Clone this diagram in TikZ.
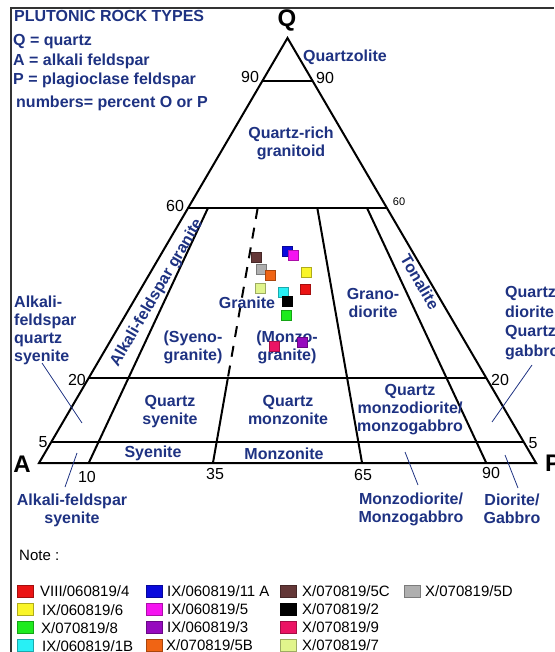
\documentclass[tikz,border=0pt]{standalone}
\usepackage{fontspec}
\setmainfont{Liberation Sans}
\usepackage{tikz}
\usetikzlibrary{calc}
\definecolor{rockblue}{RGB}{30,50,130}
\definecolor{sRed}{RGB}{235,20,20}
\definecolor{sBlue}{RGB}{10,10,220}
\definecolor{sBrown}{RGB}{100,55,55}
\definecolor{sGray}{RGB}{175,175,175}
\definecolor{sYellow}{RGB}{250,245,40}
\definecolor{sMagenta}{RGB}{245,20,240}
\definecolor{sGreen}{RGB}{30,235,30}
\definecolor{sPurple}{RGB}{150,10,190}
\definecolor{sCrimson}{RGB}{235,20,100}
\definecolor{sCyan}{RGB}{40,240,245}
\definecolor{sOrange}{RGB}{240,100,20}
\definecolor{sLime}{RGB}{225,245,140}

\begin{document}
\begin{tikzpicture}[x=1pt,y=-1pt,
    rock/.style={font=\bfseries\fontsize{16}{18}\selectfont, text=rockblue, align=center, inner sep=0pt},
    num/.style={font=\fontsize{16}{18}\selectfont, inner sep=0pt},
    corner/.style={font=\bfseries\fontsize{24}{24}\selectfont, inner sep=0pt},
    smp/.style={draw=#1!70!black, fill=#1, minimum size=10pt, inner sep=0pt, line width=0.5pt},
    key/.style={draw=#1!70!black, fill=#1, minimum width=16pt, minimum height=12pt, inner sep=0pt, line width=0.5pt},
    keytxt/.style={font=\fontsize{15}{17}\selectfont, anchor=west, inner sep=0pt},
    field/.style={line width=2pt},
    ptr/.style={line width=0.8pt, draw=rockblue}]
  \useasboundingbox (0,0) rectangle (554,652);
  \draw[line width=2pt, black!80] (11,652) -- (11,8) -- (554,8);

  % header
  \node[rock, anchor=west] (title) at (14,16) {PLUTONIC ROCK TYPES};
  \node[rock, anchor=west] (hq) at (13,42) {Q = quartz};
  \node[rock, anchor=west] (ha) at (13,61) {A = alkali feldspar};
  \node[rock, anchor=west] (hp) at (13,80) {P = plagioclase feldspar};
  \node[rock, anchor=west] (hn) at (16,103) {numbers= percent O or P};

  % triangle
  \coordinate (Q) at (287.5,38);
  \coordinate (A) at (39,463);
  \coordinate (P) at (536,463);
  \coordinate (l90) at ($(A)!0.9!(Q)$);
  \coordinate (r90) at ($(P)!0.9!(Q)$);
  \coordinate (l60) at ($(A)!0.6!(Q)$);
  \coordinate (r60) at ($(P)!0.6!(Q)$);
  \coordinate (l20) at ($(A)!0.2!(Q)$);
  \coordinate (r20) at ($(P)!0.2!(Q)$);
  \coordinate (l5) at ($(A)!0.05!(Q)$);
  \coordinate (r5) at ($(P)!0.05!(Q)$);
  \coordinate (b10) at ($(A)!0.1!(P)$);
  \coordinate (b35) at ($(A)!0.35!(P)$);
  \coordinate (b65) at ($(A)!0.65!(P)$);
  \coordinate (b90) at ($(A)!0.9!(P)$);
  \coordinate (t10) at ($(b10)!0.6!(Q)$);
  \coordinate (t35) at ($(b35)!0.6!(Q)$);
  \coordinate (m35) at ($(b35)!0.2!(Q)$);
  \coordinate (t65) at ($(b65)!0.6!(Q)$);
  \coordinate (t90) at ($(b90)!0.6!(Q)$);

  \draw[field] (A) -- (P) -- (Q) -- cycle;
  \draw[field] (l90) -- (r90);
  \draw[field] (l60) -- (r60);
  \draw[field] (l20) -- (r20);
  \draw[field] (l5) -- (r5);
  \draw[field] (b10) -- (t10);
  \draw[field] (b35) -- (m35);
  \draw[field, dash pattern=on 11pt off 9pt] (t35) -- (m35);
  \draw[field] (b65) -- (t65);
  \draw[field] (b90) -- (t90);

  \node[corner] (cq) at (287,20) {Q};
  \node[corner] (ca) at (22,464) {A};
  \node[corner, anchor=west] (cp) at (545,463) {P};

  % numbers
  \node[num] (n90l) at (250,77) {90};
  \node[num] (n90r) at (325,78) {90};
  \node[num] (n60l) at (175,206) {60};
  \node[num, font=\fontsize{11}{13}\selectfont] (n60r) at (399,202) {60};
  \node[num] (n20l) at (77,380) {20};
  \node[num] (n20r) at (500,380) {20};
  \node[num] (n5l) at (43,442) {5};
  \node[num] (n5r) at (533,443) {5};
  \node[num] (n10) at (87,477) {10};
  \node[num] (n35) at (215,474) {35};
  \node[num] (n65) at (363,475) {65};
  \node[num] (n90b) at (491,473) {90};

  % fields
  \node[rock] (qzl) at (345,57) {Quartzolite};
  \node[rock] (qrg) at (291,143) {Quartz-rich\\granitoid};
  \node[rock, rotate=59.7] (afg) at (157,293) {Alkali-feldspar granite};
  \node[rock] (gra) at (247,303) {Granite};
  \node[rock] (syg) at (193,347) {(Syeno-\\granite)};
  \node[rock] (mzg) at (287,347) {(Monzo-\\granite)};
  \node[rock] (grd) at (373,303) {Grano-\\diorite};
  \node[rock, rotate=-59.7] (ton) at (420,282) {Tonalite};
  \node[rock] (qsy) at (170,412) {Quartz\\syenite};
  \node[rock] (qmz) at (288,410) {Quartz\\monzonite};
  \node[rock] (qmd) at (410,410) {Quartz\\monzodiorite/\\monzogabbro};
  \node[rock] (sye) at (153,453) {Syenite};
  \node[rock] (mzn) at (284,454) {Monzonite};
  \node[rock, anchor=west, align=left] (afq) at (14,330) {Alkali-\\feldspar\\quartz\\syenite};
  \node[rock] (afs) at (72,510) {Alkali-feldspar\\syenite};
  \node[rock, anchor=west, align=left, font=\bfseries\fontsize{16}{19.5}\selectfont] (qdg) at (505,323) {Quartz\\diorite\\Quartz\\gabbro};
  \node[rock] (mdg) at (411,509) {Monzodiorite/\\Monzogabbro};
  \node[rock] (dgb) at (512,509) {Diorite/\\Gabbro};

  % pointers
  \coordinate (afq1) at (42,363);
  \coordinate (afq2) at (82,423);
  \coordinate (afs1) at (65,487);
  \coordinate (afs2) at (77,453);
  \coordinate (qdg1) at (532,365);
  \coordinate (qdg2) at (492,422);
  \coordinate (mdg1) at (418,485);
  \coordinate (mdg2) at (405,452);
  \coordinate (dgb1) at (518,488);
  \coordinate (dgb2) at (505,455);
  \draw[ptr] (afq1) -- (afq2);
  \draw[ptr] (afs1) -- (afs2);
  \draw[ptr] (qdg1) -- (qdg2);
  \draw[ptr] (mdg1) -- (mdg2);
  \draw[ptr] (dgb1) -- (dgb2);

  % samples
  \node[smp=sBrown] (s5c) at (256,257) {};
  \node[smp=sBlue] (s11a) at (287,251) {};
  \node[smp=sMagenta] (s5) at (293,255) {};
  \node[smp=sGray] (s5d) at (261,269) {};
  \node[smp=sOrange] (s5b) at (270,275) {};
  \node[smp=sYellow] (s6) at (306,272) {};
  \node[smp=sLime] (s7) at (260,288) {};
  \node[smp=sCyan] (s1b) at (283,292) {};
  \node[smp=sRed] (s4) at (305,289) {};
  \node[smp=black] (s2) at (287,301) {};
  \node[smp=sGreen] (s8) at (286,315) {};
  \node[smp=sCrimson] (s9) at (274,346) {};
  \node[smp=sPurple] (s3) at (302,342) {};

  % legend
  \node[keytxt] (note) at (19,555) {Note :};
  \node[key=sRed] (k4) at (25,591) {};
  \node[keytxt] at (40,591) {VIII/060819/4};
  \node[key=sYellow] (k6) at (25,609) {};
  \node[keytxt] at (42,610) {IX/060819/6};
  \node[key=sGreen] (k8) at (25,627) {};
  \node[keytxt] at (41,628) {X/070819/8};
  \node[key=sCyan] (k1b) at (25,645) {};
  \node[keytxt] at (42,646) {IX/060819/1B};
  \node[key=sBlue] (k11a) at (154,591) {};
  \node[keytxt] at (167,591) {IX/060819/11 A};
  \node[key=sMagenta] (k5) at (154,609) {};
  \node[keytxt] at (167,609) {IX/060819/5};
  \node[key=sPurple] (k3) at (154,627) {};
  \node[keytxt] at (167,627) {IX/060819/3};
  \node[key=sOrange] (k5b) at (154,645) {};
  \node[keytxt] at (166,645) {X/070819/5B};
  \node[key=sBrown] (k5c) at (288,591) {};
  \node[keytxt] at (302,591) {X/070819/5C};
  \node[key=black] (k2) at (288,609) {};
  \node[keytxt] at (302,609) {X/070819/2};
  \node[key=sCrimson] (k9) at (288,627) {};
  \node[keytxt] at (302,627) {X/070819/9};
  \node[key=sLime] (k7) at (288,645) {};
  \node[keytxt] at (302,645) {X/070819/7};
  \node[key=sGray] (k5d) at (412,591) {};
  \node[keytxt] at (425,591) {X/070819/5D};
\end{tikzpicture}
\end{document}
